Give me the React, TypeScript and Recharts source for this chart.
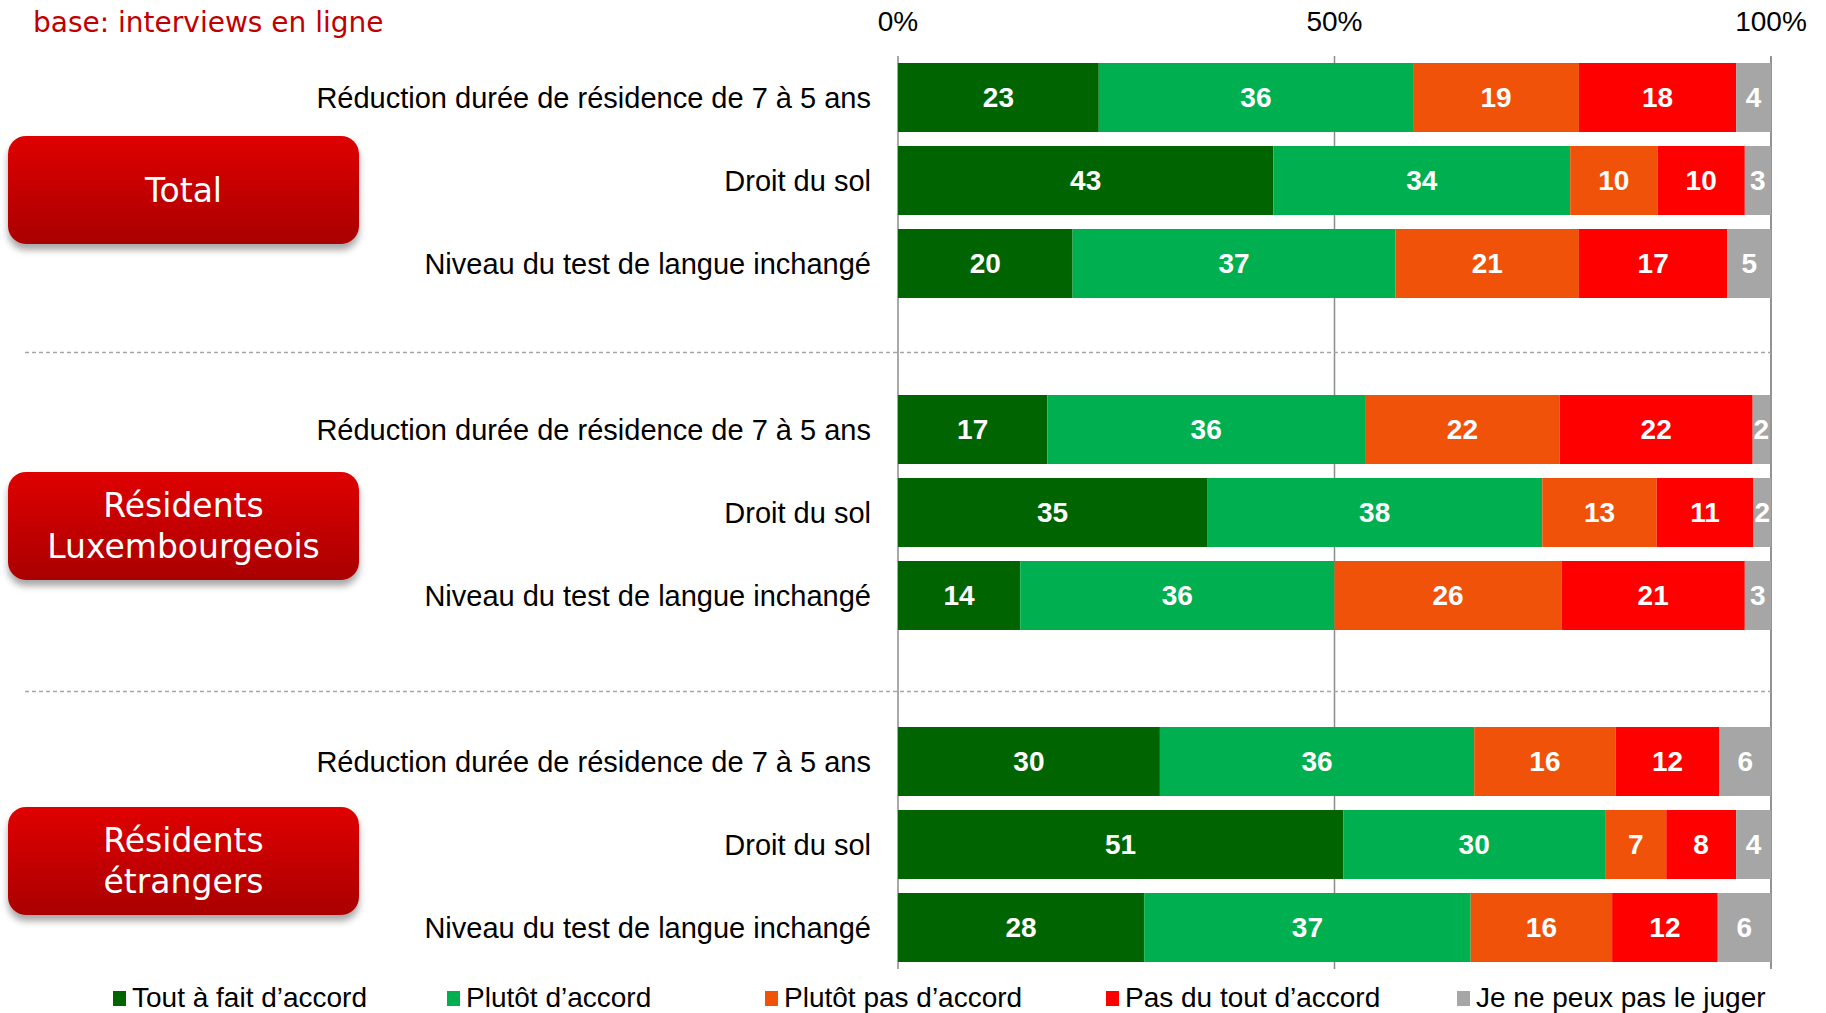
import { BarChart, Bar, XAxis, YAxis, CartesianGrid, ReferenceLine, LabelList } from "recharts";

const CATEGORIES = [
  "Réduction durée de résidence de 7 à 5 ans",
  "Droit du sol",
  "Niveau du test de langue inchangé",
];
const GROUPS = ["Total", "Résidents\nLuxembourgeois", "Résidents\nétrangers"];

// one value per bar, group by group (Total, Luxembourgeois, étrangers)
// the labels show them rounded
const TOUT_A_FAIT = [23, 43, 20, 17.1, 35.4, 14, 30, 51, 28.2];
const PLUTOT = [36, 34, 37, 36.4, 38.4, 36, 36, 30, 37.4];
const PLUTOT_PAS = [19, 10, 21, 22.3, 13.1, 26, 16.2, 7, 16.2];
const PAS_DU_TOUT = [18, 10, 17, 22.1, 11.1, 21, 11.9, 8, 12.1];
const NE_PEUX = [4, 3, 5, 2, 2, 3, 5.9, 4, 6.1];

const X_TICKS = [0, 50, 100];

const SERIES = [
  { key: "toutAFait", name: "Tout à fait d’accord", color: "#006400", values: TOUT_A_FAIT },
  { key: "plutot", name: "Plutôt d’accord", color: "#00B050", values: PLUTOT },
  { key: "plutotPas", name: "Plutôt pas d’accord", color: "#F0520A", values: PLUTOT_PAS },
  { key: "pasDuTout", name: "Pas du tout d’accord", color: "#FF0000", values: PAS_DU_TOUT },
  { key: "nePeux", name: "Je ne peux pas le juger", color: "#A6A6A6", values: NE_PEUX },
];

type Row = { id: string; label: string; [k: string]: string | number | undefined };

const rows: Row[] = [];
GROUPS.forEach((_, gi) => {
  CATEGORIES.forEach((cat, ci) => {
    const i = gi * CATEGORIES.length + ci;
    const row: Row = { id: `r${i}`, label: cat };
    SERIES.forEach((s) => (row[s.key] = s.values[i]));
    rows.push(row);
  });
  if (gi < GROUPS.length - 1) rows.push({ id: `gap${gi}`, label: "" });
});

const W = 1826;
const H = 1013;
const PLOT_LEFT = 898;
const PLOT_RIGHT = 1771;
const PLOT_TOP = 56;
const PLOT_BOTTOM = 969;

const ARIAL = "'Liberation Sans', Arial, sans-serif";
const VERDANA = "'DejaVu Sans', Verdana, sans-serif";

const BOX_TOPS = [136, 472, 807];
const LEGEND_X = [113, 447, 765, 1106, 1457];
const SEP_OFFSET = [6, 13];

function CategoryTick({ y, payload }: any) {
  const row = rows.find((r) => r.id === payload.value);
  return (
    <text x={PLOT_LEFT - 27} y={y} textAnchor="end" dominantBaseline="central"
      fontSize={29} fontFamily={ARIAL} fill="#000">
      {row?.label}
    </text>
  );
}

function PercentTick({ x, payload }: any) {
  return (
    <text x={x} y={21} textAnchor="middle" dominantBaseline="central"
      fontSize={28} fontFamily={ARIAL} fill="#000">
      {`${payload.value}%`}
    </text>
  );
}

function Separator(props: any) {
  const { x1, x2, y1, dy = 0 } = props;
  return (
    <line x1={x1 - (x2 - x1)} x2={x2} y1={y1 + dy} y2={y1 + dy}
      stroke="#A6A6A6" strokeWidth={1.5} strokeDasharray="4 3" />
  );
}

export default function App() {
  return (
    <div style={{ position: "absolute", left: 0, top: 0, width: W, height: H, background: "#fff" }}>
      <div style={{
        position: "absolute", left: 33, top: 5, fontFamily: VERDANA, fontSize: 28,
        color: "#C00000", lineHeight: "36px", whiteSpace: "nowrap",
      }}>
        base: interviews en ligne
      </div>

      <BarChart
        width={W}
        height={H}
        data={rows}
        layout="vertical"
        barCategoryGap={7}
        margin={{ top: 0, right: W - PLOT_RIGHT, bottom: H - PLOT_BOTTOM, left: 0 }}
      >
        <CartesianGrid horizontal={false} vertical stroke="#8C8C8C" strokeWidth={1.5} />
        <XAxis
          type="number"
          orientation="top"
          domain={[0, 100]}
          ticks={X_TICKS}
          height={PLOT_TOP}
          axisLine={false}
          tickLine={false}
          tick={<PercentTick />}
        />
        <YAxis
          type="category"
          dataKey="id"
          width={PLOT_LEFT}
          axisLine={false}
          tickLine={false}
          tick={<CategoryTick />}
          interval={0}
        />
        {rows.filter((r) => r.id.startsWith("gap")).map((r, i) => (
          <ReferenceLine key={r.id} y={r.id} shape={<Separator dy={SEP_OFFSET[i]} />} ifOverflow="visible" />
        ))}
        {SERIES.map((s) => (
          <Bar key={s.key} dataKey={s.key} name={s.name} stackId="a" fill={s.color}
            isAnimationActive={false}>
            <LabelList dataKey={s.key} position="center" fill="#fff" fontSize={28}
              fontWeight="bold" fontFamily={ARIAL}
              formatter={(v: any) => (v == null ? "" : Math.round(Number(v)))} />
          </Bar>
        ))}
      </BarChart>

      {GROUPS.map((g, i) => (
        <div key={g} style={{
          position: "absolute", left: 8, top: BOX_TOPS[i], width: 351, height: 108,
          borderRadius: 18, background: "linear-gradient(#E00000, #AA0000)",
          boxShadow: "0 6px 7px rgba(0,0,0,0.35)", display: "flex", alignItems: "center",
          justifyContent: "center", textAlign: "center", color: "#fff", fontFamily: VERDANA,
          fontSize: 33, lineHeight: "41px", whiteSpace: "pre-line",
        }}>
          {g}
        </div>
      ))}

      {SERIES.map((s, i) => (
        <div key={s.key} style={{
          position: "absolute", left: LEGEND_X[i], top: 981, height: 34, display: "flex",
          alignItems: "center", fontFamily: ARIAL, fontSize: 28, color: "#000", whiteSpace: "nowrap",
        }}>
          <span style={{ display: "inline-block", width: 13, height: 15, background: s.color, marginRight: 6 }} />
          {s.name}
        </div>
      ))}
    </div>
  );
}
